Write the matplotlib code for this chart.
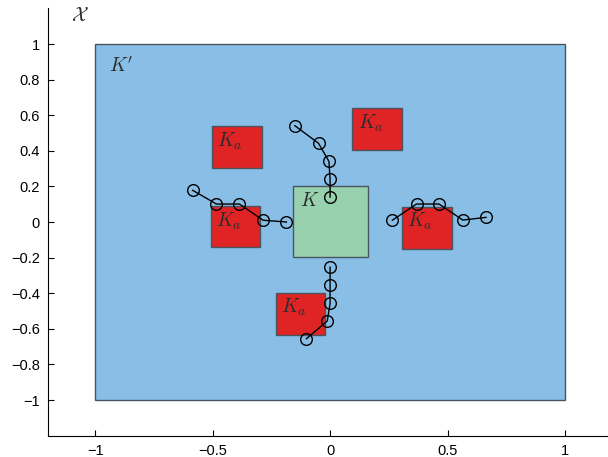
import matplotlib
matplotlib.use("Agg")
import matplotlib.pyplot as plt
from matplotlib.patches import Rectangle

plt.rcParams['font.family'] = ['Liberation Sans', 'DejaVu Sans']
plt.rcParams['mathtext.fontset'] = 'cm'

# regiones: (x0, x1, y0, y1)
caja_exterior = (-1.0, 1.0, -1.0, 1.0)
caja_objetivo = (-0.157, 0.161, -0.198, 0.202)
cajas_obstaculo = [
    (-0.504, -0.291, 0.303, 0.539),
    (0.095, 0.306, 0.403, 0.639),
    (-0.508, -0.298, -0.142, 0.090),
    (-0.232, -0.022, -0.633, -0.397),
    (0.305, 0.518, -0.153, 0.086),
]

# trayectorias
tray_x = [
    [-0.150, -0.049, -0.005, 0.0, 0.0],
    [-0.585, -0.484, -0.386, -0.285, -0.186],
    [0.0, 0.0, 0.0, -0.012, -0.101],
    [0.265, 0.368, 0.464, 0.565, 0.664],
]
tray_y = [
    [0.541, 0.442, 0.341, 0.240, 0.140],
    [0.178, 0.101, 0.101, 0.010, 0.0],
    [-0.254, -0.356, -0.457, -0.556, -0.656],
    [0.010, 0.101, 0.101, 0.011, 0.026],
]

xticks = [-1, -0.5, 0, 0.5, 1]
xlabels = ['\u22121', '\u22120.5', '0', '0.5', '1']
yticks = [-1, -0.8, -0.6, -0.4, -0.2, 0, 0.2, 0.4, 0.6, 0.8, 1]
ylabels = ['\u22121', '\u22120.8', '\u22120.6', '\u22120.4', '\u22120.2', '0',
           '0.2', '0.4', '0.6', '0.8', '1']

azul = '#89bfe7'
rojo = '#e02426'
verde = '#98d1ae'
borde = '#4a545e'
texto = '#2b2b2b'

fig = plt.figure(figsize=(6.08, 4.57), dpi=100)
ax = fig.add_axes([0.0794, 0.0468, 0.927, 0.9348])


def rect(c, color):
    x0, x1, y0, y1 = c
    ax.add_patch(Rectangle((x0, y0), x1 - x0, y1 - y0, facecolor=color,
                           edgecolor=borde, linewidth=1.0, zorder=1))


rect(caja_exterior, azul)
rect(caja_objetivo, verde)
for c in cajas_obstaculo:
    rect(c, rojo)
    ax.text(c[0] + 0.022, c[3] - 0.085, r'$K_a$', fontsize=14, color=texto,
            ha='left', va='center', zorder=3)

ax.text(caja_objetivo[0] + 0.028, caja_objetivo[3] - 0.085, r'$K$', fontsize=14,
        color=texto, ha='left', va='center', zorder=3)
ax.text(-0.94, 0.876, r"$K'$", fontsize=14, color=texto, ha='left', va='center')
ax.text(-1.104, 1.156, r'$\mathcal{X}$', fontsize=14, color=texto, ha='left',
        va='center')

for xs, ys in zip(tray_x, tray_y):
    ax.plot(xs, ys, color='black', linewidth=1.0, marker='o', markersize=8.4,
            markerfacecolor='none', markeredgecolor='black',
            markeredgewidth=1.0, zorder=4)

ax.set_xlim(-1.2, 1.2)
ax.set_ylim(-1.2, 1.2)
ax.set_xticks(xticks)
ax.set_xticklabels(xlabels)
ax.set_yticks(yticks)
ax.set_yticklabels(ylabels)
ax.tick_params(direction='in', length=4, width=0.8, labelsize=10.5, pad=6)
ax.spines['top'].set_visible(False)
ax.spines['right'].set_visible(False)

plt.savefig('out.png', dpi=100)
